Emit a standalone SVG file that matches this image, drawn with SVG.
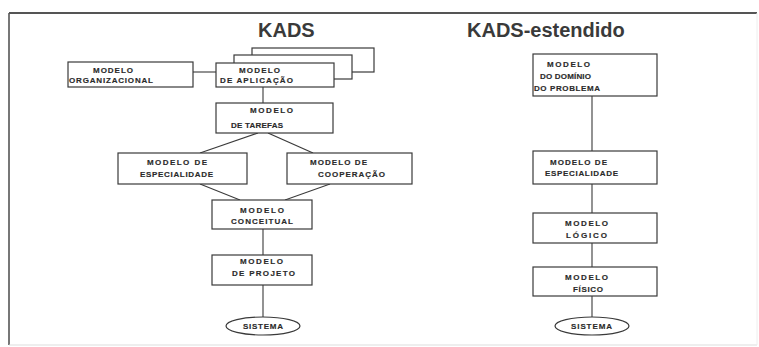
<svg xmlns="http://www.w3.org/2000/svg" width="759" height="347" viewBox="0 0 759 347">
<style>
.box{fill:#fff;stroke:#3a3a3a;stroke-width:1.2}
.ln{stroke:#3a3a3a;stroke-width:1.1;fill:none}
.t{font-family:"Liberation Sans",Arial,sans-serif;font-weight:bold;font-size:8px;fill:#2a2a2a;stroke:#2a2a2a;stroke-width:0.15}
.h{font-family:"Liberation Sans",Arial,sans-serif;font-weight:bold;font-size:20px;fill:#3a3a3a}
</style>
<rect width="759" height="347" fill="#fff"/>
<g id="frame">
<line x1="9" y1="13" x2="757" y2="13" stroke="#555" stroke-width="2"/>
<line x1="9" y1="13" x2="9" y2="345" stroke="#555" stroke-width="1.6"/>
<line x1="9" y1="345" x2="757" y2="345" stroke="#ddd" stroke-width="1"/>
<line x1="757" y1="13" x2="757" y2="345" stroke="#eee" stroke-width="1"/>
</g>
<text class="h" x="258" y="37">KADS</text>
<text class="h" x="467" y="37">KADS-estendido</text>
<g id="connectors">
<line class="ln" x1="193" y1="72" x2="216" y2="72"/>
<line class="ln" x1="263" y1="87" x2="263" y2="103"/>
<line class="ln" x1="258" y1="133" x2="200" y2="153"/>
<line class="ln" x1="268" y1="133" x2="313" y2="153"/>
<line class="ln" x1="200" y1="184" x2="240" y2="200"/>
<line class="ln" x1="330" y1="184" x2="285" y2="200"/>
<line class="ln" x1="263" y1="229" x2="263" y2="255"/>
<line class="ln" x1="263" y1="285" x2="263" y2="317"/>
<line class="ln" x1="592" y1="96" x2="592" y2="151"/>
<line class="ln" x1="592" y1="184" x2="592" y2="213"/>
<line class="ln" x1="592" y1="243" x2="592" y2="267"/>
<line class="ln" x1="592" y1="296" x2="592" y2="317"/>
</g>
<g id="organizacional">
<rect class="box" x="68" y="62" width="125" height="25"/>
<text class="t" x="93" y="73" textLength="40">MODELO</text>
<text class="t" x="69" y="83" textLength="84">ORGANIZACIONAL</text>
</g>
<g id="aplicacao">
<rect class="box" x="252" y="48" width="122" height="24"/>
<rect class="box" x="234" y="55" width="118" height="24"/>
<rect class="box" x="216" y="63" width="118" height="24"/>
<text class="t" x="239" y="73" textLength="41">MODELO</text>
<text class="t" x="220" y="83" textLength="73">DE APLICAÇÃO</text>
</g>
<g id="tarefas">
<rect class="box" x="216" y="103" width="117" height="30"/>
<text class="t" x="250" y="113" textLength="43">MODELO</text>
<text class="t" x="231" y="128" textLength="52">DE TAREFAS</text>
</g>
<g id="especialidade">
<rect class="box" x="118" y="153" width="129" height="31"/>
<text class="t" x="147" y="165" textLength="60">MODELO DE</text>
<text class="t" x="140" y="177" textLength="73">ESPECIALIDADE</text>
</g>
<g id="cooperacao">
<rect class="box" x="287" y="153" width="125" height="31"/>
<text class="t" x="310" y="165" textLength="57">MODELO DE</text>
<text class="t" x="318" y="177" textLength="67">COOPERAÇÃO</text>
</g>
<g id="conceitual">
<rect class="box" x="212" y="200" width="100" height="29"/>
<text class="t" x="240" y="213" textLength="44">MODELO</text>
<text class="t" x="231" y="224" textLength="62">CONCEITUAL</text>
</g>
<g id="projeto">
<rect class="box" x="212" y="255" width="100" height="30"/>
<text class="t" x="240" y="264" textLength="43">MODELO</text>
<text class="t" x="232" y="276" textLength="63">DE PROJETO</text>
</g>
<g id="sistema1">
<ellipse class="box" cx="263" cy="326" rx="37" ry="9"/>
<text class="t" x="243" y="329" textLength="40">SISTEMA</text>
</g>
<g id="dominio">
<rect class="box" x="533" y="54" width="124" height="42"/>
<text class="t" x="547" y="67" textLength="43">MODELO</text>
<text class="t" x="540" y="79" textLength="51">DO DOMÍNIO</text>
<text class="t" x="534" y="91" textLength="66">DO PROBLEMA</text>
</g>
<g id="especialidade2">
<rect class="box" x="533" y="151" width="124" height="33"/>
<text class="t" x="550" y="165" textLength="57">MODELO DE</text>
<text class="t" x="545" y="176" textLength="73">ESPECIALIDADE</text>
</g>
<g id="logico">
<rect class="box" x="533" y="213" width="124" height="30"/>
<text class="t" x="565" y="226" textLength="43">MODELO</text>
<text class="t" x="566" y="238" textLength="41">LÓGICO</text>
</g>
<g id="fisico">
<rect class="box" x="533" y="267" width="124" height="29"/>
<text class="t" x="565" y="280" textLength="43">MODELO</text>
<text class="t" x="573" y="292" textLength="30">FÍSICO</text>
</g>
<g id="sistema2">
<ellipse class="box" cx="592" cy="326" rx="37" ry="9"/>
<text class="t" x="571" y="329" textLength="41">SISTEMA</text>
</g>
</svg>
